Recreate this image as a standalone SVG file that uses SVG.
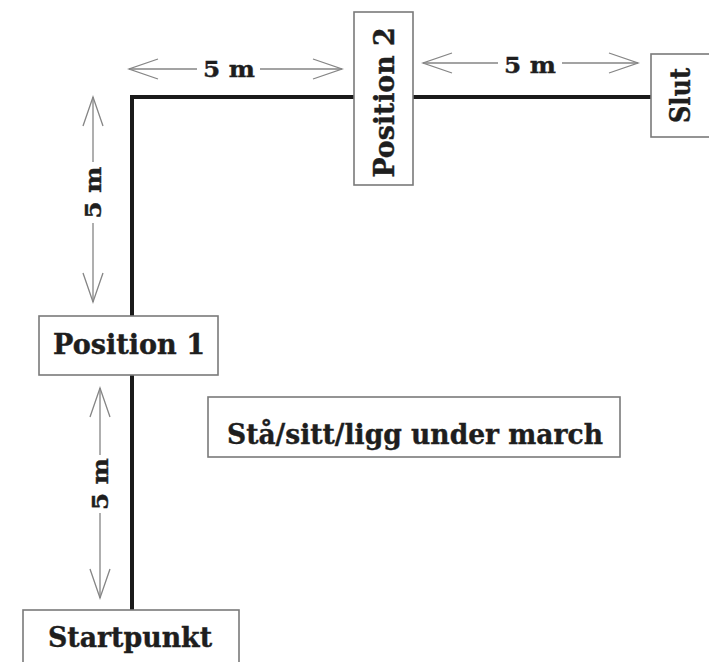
<svg xmlns="http://www.w3.org/2000/svg" width="709" height="662" viewBox="0 0 709 662">
<defs>
<style>
.box{fill:#fff;stroke:#7a7a7a;stroke-width:1.6}
.lbl{font-family:"DejaVu Serif","Liberation Serif",serif;font-weight:bold;fill:#1e1e1e;text-anchor:middle;stroke:#1e1e1e;stroke-width:0.4}
.big{font-size:27px}
.small{font-size:23px}
.dim{fill:none;stroke:#858585;stroke-width:1.3;marker-start:url(#ah);marker-end:url(#ah)}
.path{fill:none;stroke:#1a1a1a;stroke-width:4;stroke-linejoin:miter}
</style>
<marker id="ah" markerUnits="userSpaceOnUse" markerWidth="40" markerHeight="40" refX="0" refY="0" orient="auto-start-reverse" overflow="visible">
<path d="M-29,-10 L0,0 L-29,10" fill="none" stroke="#858585" stroke-width="1.3"/>
</marker>
</defs>
<rect width="709" height="662" fill="#fff"/>
<g id="connectors">
<path class="path" d="M132,610 L132,97 L651,97"/>
<path class="dim" d="M129,69 L197,69 M260,69 L342,69"/>
<path class="dim" d="M423,63 L498,63 M562,63 L638,63"/>
<path class="dim" d="M93,97 L93,162 M93,223 L93,302"/>
<path class="dim" d="M100,388 L100,455 M100,513 L100,598"/>
<text class="lbl small" x="229" y="77" textLength="52" lengthAdjust="spacingAndGlyphs">5 m</text>
<text class="lbl small" x="530" y="73" textLength="52" lengthAdjust="spacingAndGlyphs">5 m</text>
<text class="lbl small" transform="translate(101,192.5) rotate(-90)" textLength="52" lengthAdjust="spacingAndGlyphs">5 m</text>
<text class="lbl small" transform="translate(108,484) rotate(-90)" textLength="52" lengthAdjust="spacingAndGlyphs">5 m</text>
</g>
<g id="position2">
<rect class="box" x="354" y="12" width="59" height="173"/>
<text class="lbl big" transform="translate(394,102.5) rotate(-90)" textLength="150" lengthAdjust="spacingAndGlyphs">Position 2</text>
</g>
<g id="slut">
<rect class="box" x="651" y="54" width="62" height="83"/>
<text class="lbl big" transform="translate(690,95.5) rotate(-90)" textLength="55" lengthAdjust="spacingAndGlyphs">Slut</text>
</g>
<g id="position1">
<rect class="box" x="39" y="316" width="179" height="59"/>
<text class="lbl big" x="129" y="354" textLength="152" lengthAdjust="spacingAndGlyphs">Position 1</text>
</g>
<g id="note">
<rect class="box" x="208" y="397" width="412" height="60"/>
<text class="lbl big" x="415" y="444" textLength="376" lengthAdjust="spacingAndGlyphs">Stå/sitt/ligg under march</text>
</g>
<g id="startpunkt">
<rect class="box" x="23" y="610" width="216" height="60"/>
<text class="lbl big" x="130" y="647" textLength="164" lengthAdjust="spacingAndGlyphs">Startpunkt</text>
</g>
</svg>
